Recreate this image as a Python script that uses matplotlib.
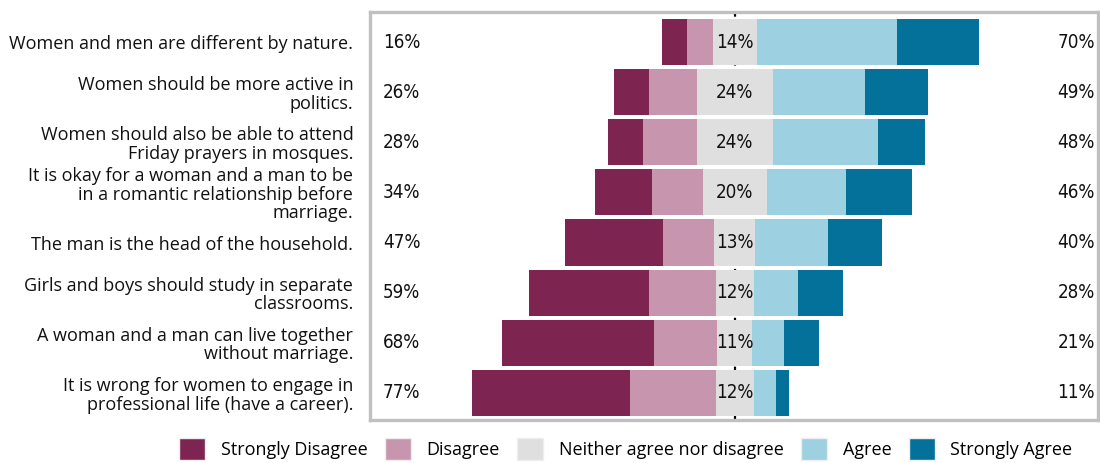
import matplotlib.pyplot as plt
from matplotlib.patches import Patch

statements = [
    "Women and men are different by nature.",
    "Women should be more active in\npolitics.",
    "Women should also be able to attend\nFriday prayers in mosques.",
    "It is okay for a woman and a man to be\nin a romantic relationship before\nmarriage.",
    "The man is the head of the household.",
    "Girls and boys should study in separate\nclassrooms.",
    "A woman and a man can live together\nwithout marriage.",
    "It is wrong for women to engage in\nprofessional life (have a career).",
]

strongly_disagree = [8, 11, 11, 18, 31, 38, 48, 50]
disagree = [8, 15, 17, 16, 16, 21, 20, 27]
neutral = [14, 24, 24, 20, 13, 12, 11, 12]
agree = [44, 29, 33, 25, 23, 14, 10, 7]
strongly_agree = [26, 20, 15, 21, 17, 14, 11, 4]

disagree_labels = ["16%", "26%", "28%", "34%", "47%", "59%", "68%", "77%"]
neutral_labels = ["14%", "24%", "24%", "20%", "13%", "12%", "11%", "12%"]
agree_labels = ["70%", "49%", "48%", "46%", "40%", "28%", "21%", "11%"]

categories = ["Strongly Disagree", "Disagree", "Neither agree nor disagree",
              "Agree", "Strongly Agree"]
colors = ['#7d2550', '#c895ae', '#dfdfdf', '#9dd0e0', '#03719a']

label_font = ['Open Sans', 'DejaVu Sans']
pct_font = ['DejaVu Sans']

fig = plt.figure(figsize=(11, 4.63), dpi=100)
ax = fig.add_axes([0.3364, 0.0929, 0.6618, 0.8812])

series = [strongly_disagree, disagree, neutral, agree, strongly_agree]
rows = range(len(statements))
for i in rows:
    start = -(strongly_disagree[i] + disagree[i] + neutral[i] / 2)
    for vals, color in zip(series, colors):
        ax.barh(i, vals[i], left=start, height=0.92, color=color, zorder=2)
        start += vals[i]

ax.axvline(0, color='black', linestyle=(0, (2, 3.5)), linewidth=1.6, zorder=1)

pct_style = dict(fontsize=13.5, family=pct_font, fontstretch='condensed',
                 color='#111111', va='center', zorder=3)
for i in rows:
    ax.text(-111, i, disagree_labels[i], ha='left', **pct_style)
    ax.text(0, i, neutral_labels[i], ha='center', **pct_style)
    ax.text(113.5, i, agree_labels[i], ha='right', **pct_style)

ax.set_xlim(-115, 114.5)
ax.set_ylim(7.54, -0.6)
ax.set_xticks([])
ax.set_yticks(list(rows))
ax.set_yticklabels(statements, family=label_font, fontsize=13, color='#111111',
                   linespacing=1.05)
ax.tick_params(axis='y', length=0, pad=12)
for spine in ax.spines.values():
    spine.set_color('#c0c0c0')
    spine.set_linewidth(2.4)

handles = [Patch(facecolor=c, edgecolor='#eeeeee', linewidth=1) for c in colors]
fig.legend(handles, categories, loc='lower left', bbox_to_anchor=(0.148, -0.028),
           ncol=5, frameon=False, handlelength=1.45, handleheight=1.45,
           handletextpad=0.85, columnspacing=0.97,
           prop={'family': label_font, 'size': 13})

plt.savefig('out.png', dpi=100)
